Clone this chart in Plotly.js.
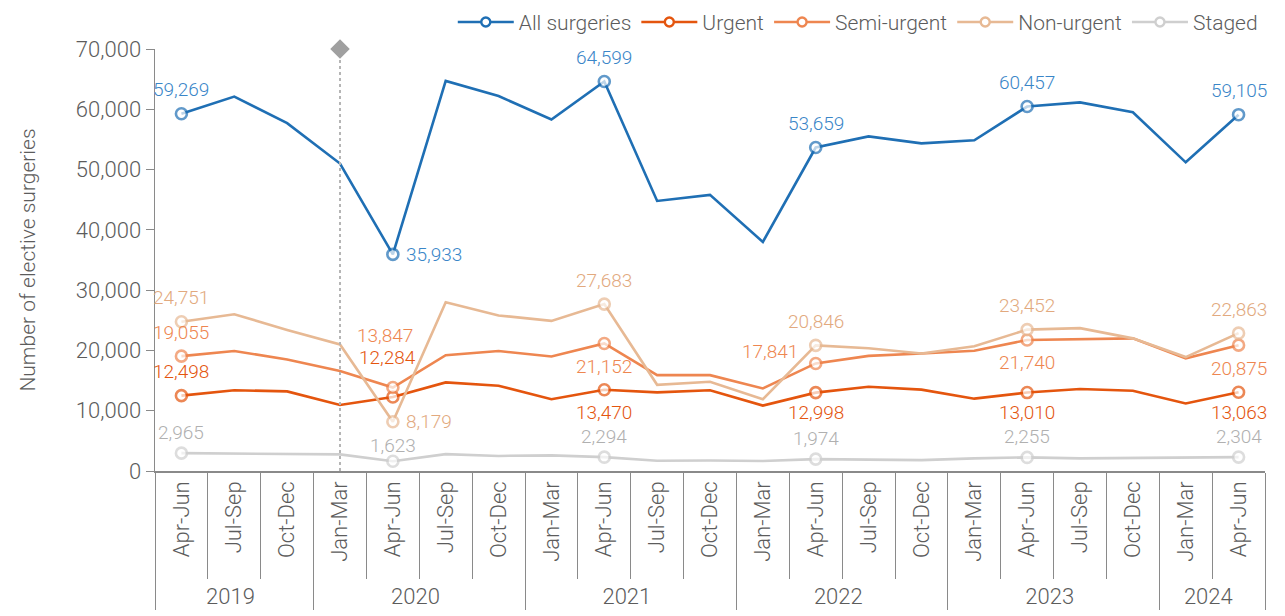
<!DOCTYPE html>
<html>
<head>
<meta charset="utf-8">
<script src="https://cdn.plot.ly/plotly-3.0.1.min.js"></script>
<style>html,body{margin:0;padding:0;background:#fff;}#chart{width:1285px;height:616px;}</style>
</head>
<body>
<div id="chart"></div>
<script>
const years = ["2019","2019","2019","2020","2020","2020","2020","2021","2021","2021","2021","2022","2022","2022","2022","2023","2023","2023","2023","2024","2024"];
const quarters = ["Apr-Jun","Jul-Sep","Oct-Dec","Jan-Mar","Apr-Jun","Jul-Sep","Oct-Dec","Jan-Mar","Apr-Jun","Jul-Sep","Oct-Dec","Jan-Mar","Apr-Jun","Jul-Sep","Oct-Dec","Jan-Mar","Apr-Jun","Jul-Sep","Oct-Dec","Jan-Mar","Apr-Jun"];
const allSurgeries = [59269, 62100, 57700, 51000, 35933, 64700, 62200, 58300, 64599, 44800, 45800, 38000, 53659, 55500, 54350, 54850, 60457, 61150, 59500, 51200, 59105];
const urgent = [12498, 13400, 13200, 10950, 12284, 14700, 14150, 11900, 13470, 13050, 13400, 10850, 12998, 13980, 13500, 12000, 13010, 13600, 13300, 11200, 13063];
const semiUrgent = [19055, 19900, 18500, 16600, 13847, 19200, 19900, 19000, 21152, 15900, 15900, 13700, 17841, 19100, 19500, 19950, 21740, 21900, 22000, 18700, 20875];
const nonUrgent = [24751, 26000, 23400, 21000, 8179, 28000, 25800, 24900, 27683, 14300, 14800, 11900, 20846, 20350, 19500, 20700, 23452, 23700, 22000, 18900, 22863];
const staged = [2965, 2900, 2800, 2750, 1623, 2800, 2500, 2600, 2294, 1700, 1750, 1650, 1974, 1900, 1800, 2100, 2255, 2100, 2150, 2300, 2304];
const markedIdx = [0, 4, 8, 12, 16, 20];
const eventIdx = 3;
const yMax = 70000;
const yTicks = [0, 10000, 20000, 30000, 40000, 50000, 60000, 70000];

// Plotly ranks inner categories globally by first appearance; the first (partial) year
// gets an invisible zero-width marker so each year keeps its own Jan→Dec order.
const innerKeys = quarters.map((q, i) => years[i] === years[0] ? q + "\u200B" : q);
const X = [years, innerKeys];

const FONT = "Roboto, 'Liberation Sans', Arial, sans-serif";
const TXT = "#5c5c5c";
const series = [
  {name: "All surgeries", y: allSurgeries, color: "#1f6fb4", text: "#3a86c8", pos: ["up","right","up","up","up","up"]},
  {name: "Urgent", y: urgent, color: "#e4550e", text: "#e4550e", pos: ["up","up2","down","downs","downs","downs"]},
  {name: "Semi-urgent", y: semiUrgent, color: "#ee8650", text: "#ee8650", pos: ["up","up3","down","left","down","down"]},
  {name: "Non-urgent", y: nonUrgent, color: "#e7b994", text: "#e2a97e", pos: ["up","right","up","up","up","up"]},
  {name: "Staged", y: staged, color: "#cfcfcf", text: "#b0b0b0", pos: ["ups","upl","ups","ups","ups","ups"]}
];
const shifts = {
  up: {xanchor:"center", xshift:0, yshift:24},
  ups: {xanchor:"center", xshift:0, yshift:21},
  upl: {xanchor:"center", xshift:0, yshift:16},
  up2: {xanchor:"center", xshift:-5, yshift:39},
  up3: {xanchor:"center", xshift:-8, yshift:52},
  down: {xanchor:"center", xshift:0, yshift:-23},
  downs: {xanchor:"center", xshift:0, yshift:-20},
  right: {xanchor:"left", xshift:12, yshift:0},
  left: {xanchor:"right", xshift:-17, yshift:12}
};

const traces = [];
const legendTraces = [];
const annotations = [];
series.forEach(s => {
  const sizes = s.y.map((v, i) => markedIdx.includes(i) ? 11 : 0);
  traces.push({
    x: X, y: s.y, name: s.name, type: "scatter", mode: "lines+markers",
    line: {color: s.color, width: 2.6},
    marker: {size: sizes, color: "#ffffff", line: {color: s.color, width: 2.6}, symbol: "circle"},
    cliponaxis: false, hoverinfo: "skip", showlegend: false
  });
  legendTraces.push({
    x: [[years[0]], [innerKeys[0]]], y: [null], name: s.name, type: "scatter", mode: "lines+markers",
    line: {color: s.color, width: 2.4},
    marker: {size: 9, color: "#ffffff", line: {color: s.color, width: 2.4}, symbol: "circle"},
    hoverinfo: "skip", showlegend: true
  });
  markedIdx.forEach((idx, k) => {
    const sh = shifts[s.pos[k]];
    annotations.push({
      x: idx, y: s.y[idx], xref: "x", yref: "y", text: s.y[idx].toLocaleString("en-US"),
      showarrow: false, xanchor: sh.xanchor, yanchor: "middle", xshift: sh.xshift, yshift: sh.yshift,
      borderpad: 0, font: {family: FONT, size: 19, color: s.text, weight: 300}
    });
  });
});
traces.push(...legendTraces);
traces.push({
  x: [[years[eventIdx], years[eventIdx]], [innerKeys[eventIdx], innerKeys[eventIdx]]],
  y: [0, yMax], mode: "lines", line: {color: "#b5b5b5", width: 2, dash: "dot"},
  showlegend: false, hoverinfo: "skip"
});
traces.push({
  x: [[years[eventIdx]], [innerKeys[eventIdx]]], y: [yMax], mode: "markers",
  marker: {symbol: "diamond", size: 15, color: "#a0a0a0"}, showlegend: false, cliponaxis: false, hoverinfo: "skip"
});

const layout = {
  width: 1285, height: 616,
  margin: {l: 155, r: 20, t: 49, b: 145, autoexpand: false},
  paper_bgcolor: "#ffffff", plot_bgcolor: "#ffffff",
  font: {family: FONT, size: 20, color: TXT, weight: 300},
  showlegend: true,
  legend: {orientation: "h", xref: "paper", x: 0.998, xanchor: "right", yref: "container", y: 0.997, yanchor: "top",
    font: {family: FONT, size: 21, color: TXT, weight: 300}, itemwidth: 56, tracegroupgap: 0},
  xaxis: {
    type: "multicategory", showgrid: false, zeroline: false,
    showline: true, linecolor: "#8a8a8a", linewidth: 1.5,
    ticks: "outside", ticklen: 106, tickcolor: "#8a8a8a", tickwidth: 1,
    showdividers: true, dividercolor: "#8a8a8a", dividerwidth: 1,
    tickangle: -90, tickfont: {family: FONT, size: 22, color: TXT, weight: 300},
    range: [-0.5, 20.5]
  },
  yaxis: {
    range: [0, yMax], tickvals: yTicks, tickformat: ",",
    showgrid: false, zeroline: false, showline: true, linecolor: "#8a8a8a", linewidth: 1.5,
    ticks: "outside", ticklen: 8, tickcolor: "#8a8a8a",
    tickfont: {family: FONT, size: 22, color: TXT, weight: 300},
    title: {text: "Number of elective surgeries", standoff: 34, font: {family: FONT, size: 21, color: TXT, weight: 300}}
  },
  annotations: annotations
};
Plotly.newPlot("chart", traces, layout, {displayModeBar: false, staticPlot: true});
</script>
</body>
</html>
